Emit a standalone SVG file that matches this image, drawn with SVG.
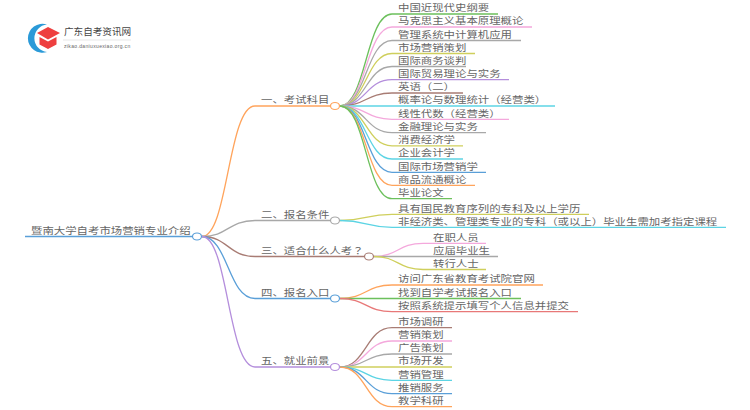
<svg xmlns="http://www.w3.org/2000/svg" width="750" height="410" viewBox="0 0 750 410">
<style>
text{font-family:"Liberation Sans","Noto Sans CJK SC",sans-serif;font-size:9.200px;fill:#666}
tspan{font-family:"Liberation Sans","Noto Sans CJK TC",sans-serif}
.c{fill:none;stroke-width:1.3}
.n{fill:#fff;stroke-width:1.2}
.or{stroke:#ffa45c}.gr{stroke:#6cc05c}.pk{stroke:#f4a8dc}.gy{stroke:#a8a8a8}.ol{stroke:#cfcf5c}.pu{stroke:#b48edc}.br{stroke:#a87c74}.cy{stroke:#5cd4e4}.bl{stroke:#5a9fd8}.rd{stroke:#e87878}
</style>
<rect width="750" height="410" fill="#fff"/>
<g id="logo">
<path d="M47 24.500A14.500 14.500 0 1 0 47 52A13.800 13.800 0 0 1 47 24.500Z" fill="#2b9ad8"/>
<path d="M48 27L60 33L48 39.500L37 33Z" fill="#ee3f3f"/>
<path d="M39.500 37L48 41.500L56.500 37V44.500L48 49L39.500 44.500Z" fill="#ee3f3f"/>
<text x="64" y="35" style="font-size:9.600px;fill:#444">广东自考资讯网</text>
<path d="M63 40H131" stroke="#ddd" stroke-width=".7" fill="none"/>
<text x="64" y="48" style="font-size:5px;fill:#666;letter-spacing:.35px">zikao.daniuxuexiao.org.cn</text>
</g>
<g id="connectors">
<path class="c bl" d="M25 236.500H192"/>
<path class="c or" d="M202 236.500C228 236.500 228 106 255 106H330"/>
<path class="c gy" d="M202 236.500C228 236.500 228 220.500 255 220.500H330"/>
<path class="c br" d="M202 236.500C228 236.500 228 256.500 255 256.500H364"/>
<path class="c bl" d="M202 236.500C228 236.500 228 298.500 255 298.500H330"/>
<path class="c pu" d="M202 236.500C228 236.500 228 367 255 367H330"/>
<path class="c gr" d="M340 106C366 106 366 14 392 14H498"/>
<path class="c pk" d="M340 106C366 106 366 27 392 27H532"/>
<path class="c gy" d="M340 106C366 106 366 40.500 392 40.500H521"/>
<path class="c ol" d="M340 106C366 106 366 53.500 392 53.500H475"/>
<path class="c gy" d="M340 106C366 106 366 66.500 392 66.500H466"/>
<path class="c pu" d="M340 106C366 106 366 79.700 392 79.700H509"/>
<path class="c br" d="M340 106C366 106 366 93 392 93H463"/>
<path class="c cy" d="M340 106H555"/>
<path class="c pk" d="M340 106C366 106 366 119.300 392 119.300H509"/>
<path class="c gy" d="M340 106C366 106 366 132.700 392 132.700H486"/>
<path class="c ol" d="M340 106C366 106 366 145.800 392 145.800H463"/>
<path class="c cy" d="M340 106C366 106 366 159 392 159H463"/>
<path class="c bl" d="M340 106C366 106 366 172.300 392 172.300H486"/>
<path class="c or" d="M340 106C366 106 366 185.300 392 185.300H475"/>
<path class="c gr" d="M340 106C366 106 366 198.700 392 198.700H452"/>
<path class="c ol" d="M340 220.500C366 220.500 366 214.300 392 214.300H589"/>
<path class="c cy" d="M340 220.500C366 220.500 366 227.300 392 227.300H726"/>
<path class="c pk" d="M374 256.500C398 256.500 398 243.300 423 243.300H486"/>
<path class="c gy" d="M374 256.500H498"/>
<path class="c ol" d="M374 256.500C398 256.500 398 269.500 423 269.500H486"/>
<path class="c or" d="M340 298.500C366 298.500 366 285 392 285H543"/>
<path class="c gr" d="M340 298.500H521"/>
<path class="c rd" d="M340 298.500C366 298.500 366 311.700 392 311.700H578"/>
<path class="c br" d="M340 367C366 367 366 327.700 392 327.700H452"/>
<path class="c pk" d="M340 367C366 367 366 341 392 341H452"/>
<path class="c gy" d="M340 367C366 367 366 354 392 354H452"/>
<path class="c ol" d="M340 367H452"/>
<path class="c cy" d="M340 367C366 367 366 380.300 392 380.300H452"/>
<path class="c bl" d="M340 367C366 367 366 393.700 392 393.700H452"/>
<path class="c or" d="M340 367C366 367 366 406.700 392 406.700H452"/>
</g>
<g id="root"><text x="31" y="233.800" textLength="159.600" lengthAdjust="spacingAndGlyphs">暨南大学自考市场营销专业介绍</text><ellipse class="n bl" cx="197" cy="236.500" rx="4.500" ry="3.500"/></g>
<g id="b1"><text x="261" y="103.200" textLength="68.400" lengthAdjust="spacingAndGlyphs">一、考试科目</text><ellipse class="n or" cx="335" cy="106" rx="4.500" ry="3.500"/></g>
<g id="b2"><text x="261" y="217.800" textLength="68.400" lengthAdjust="spacingAndGlyphs">二、报名条件</text><ellipse class="n gy" cx="335" cy="220.500" rx="4.500" ry="3.500"/></g>
<g id="b3"><text x="261" y="253.800" textLength="102.600" lengthAdjust="spacingAndGlyphs">三、适合什么人考<tspan>？</tspan></text><ellipse class="n br" cx="369" cy="256.500" rx="4.500" ry="3.500"/></g>
<g id="b4"><text x="261" y="295.800" textLength="68.400" lengthAdjust="spacingAndGlyphs">四、报名入口</text><ellipse class="n bl" cx="335" cy="298.500" rx="4.500" ry="3.500"/></g>
<g id="b5"><text x="261" y="364.300" textLength="68.400" lengthAdjust="spacingAndGlyphs">五、就业前景</text><ellipse class="n pu" cx="335" cy="367" rx="4.500" ry="3.500"/></g>
<g id="items1">
<text x="398" y="11.300" textLength="91.200" lengthAdjust="spacingAndGlyphs">中国近现代史纲要</text>
<text x="398" y="24.300" textLength="125.400" lengthAdjust="spacingAndGlyphs">马克思主义基本原理概论</text>
<text x="398" y="37.800" textLength="114" lengthAdjust="spacingAndGlyphs">管理系统中计算机应用</text>
<text x="398" y="50.800" textLength="68.400" lengthAdjust="spacingAndGlyphs">市场营销策划</text>
<text x="398" y="63.800" textLength="68.400" lengthAdjust="spacingAndGlyphs">国际商务谈判</text>
<text x="398" y="77" textLength="102.600" lengthAdjust="spacingAndGlyphs">国际贸易理论与实务</text>
<text x="398" y="90.300" textLength="57" lengthAdjust="spacingAndGlyphs">英语<tspan>（</tspan>二<tspan>）</tspan></text>
<text x="398" y="103.300" textLength="148.200" lengthAdjust="spacingAndGlyphs">概率论与数理统计<tspan>（</tspan>经营类<tspan>）</tspan></text>
<text x="398" y="116.600" textLength="102.600" lengthAdjust="spacingAndGlyphs">线性代数<tspan>（</tspan>经营类<tspan>）</tspan></text>
<text x="398" y="130" textLength="79.800" lengthAdjust="spacingAndGlyphs">金融理论与实务</text>
<text x="398" y="143.100" textLength="57" lengthAdjust="spacingAndGlyphs">消费经济学</text>
<text x="398" y="156.300" textLength="57" lengthAdjust="spacingAndGlyphs">企业会计学</text>
<text x="398" y="169.600" textLength="79.800" lengthAdjust="spacingAndGlyphs">国际市场营销学</text>
<text x="398" y="182.600" textLength="68.400" lengthAdjust="spacingAndGlyphs">商品流通概论</text>
<text x="398" y="196" textLength="45.600" lengthAdjust="spacingAndGlyphs">毕业论文</text>
</g>
<g id="items2">
<text x="398" y="211.600" textLength="182.400" lengthAdjust="spacingAndGlyphs">具有国民教育序列的专科及以上学历</text>
<text x="398" y="224.600" textLength="319.200" lengthAdjust="spacingAndGlyphs">非经济类、管理类专业的专科<tspan>（</tspan>或以上<tspan>）</tspan>毕业生需加考指定课程</text>
</g>
<g id="items3">
<text x="433" y="240.600" textLength="45.600" lengthAdjust="spacingAndGlyphs">在职人员</text>
<text x="433" y="253.800" textLength="57" lengthAdjust="spacingAndGlyphs">应届毕业生</text>
<text x="433" y="266.800" textLength="45.600" lengthAdjust="spacingAndGlyphs">转行人士</text>
</g>
<g id="items4">
<text x="398" y="282.300" textLength="136.800" lengthAdjust="spacingAndGlyphs">访问广东省教育考试院官网</text>
<text x="398" y="295.800" textLength="114" lengthAdjust="spacingAndGlyphs">找到自学考试报名入口</text>
<text x="398" y="309" textLength="171" lengthAdjust="spacingAndGlyphs">按照系统提示填写个人信息并提交</text>
</g>
<g id="items5">
<text x="398" y="325" textLength="45.600" lengthAdjust="spacingAndGlyphs">市场调研</text>
<text x="398" y="338.300" textLength="45.600" lengthAdjust="spacingAndGlyphs">营销策划</text>
<text x="398" y="351.300" textLength="45.600" lengthAdjust="spacingAndGlyphs">广告策划</text>
<text x="398" y="364.300" textLength="45.600" lengthAdjust="spacingAndGlyphs">市场开发</text>
<text x="398" y="377.600" textLength="45.600" lengthAdjust="spacingAndGlyphs">营销管理</text>
<text x="398" y="391" textLength="45.600" lengthAdjust="spacingAndGlyphs">推销服务</text>
<text x="398" y="404" textLength="45.600" lengthAdjust="spacingAndGlyphs">教学科研</text>
</g>
</svg>
